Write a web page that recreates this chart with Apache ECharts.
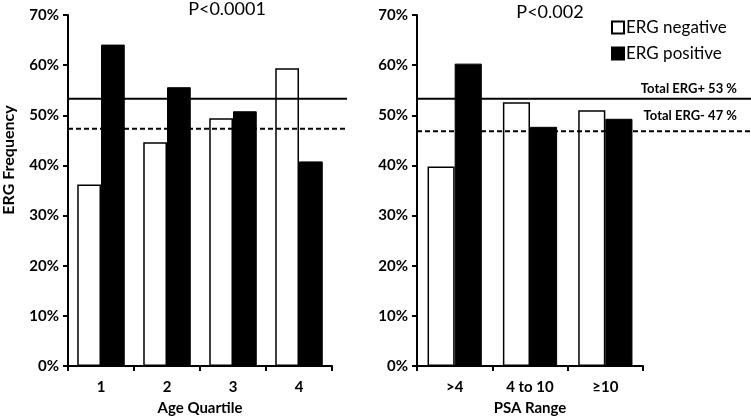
<!DOCTYPE html>
<html>
<head>
<meta charset="utf-8">
<script src="https://cdn.jsdelivr.net/npm/echarts@6/dist/echarts.min.js"></script>
<style>html,body{margin:0;padding:0;background:#fff}#c{width:751px;height:417px}</style>
</head>
<body>
<div id="c"></div>
<script>
const ageCats = ['1', '2', '3', '4'];
const ageNeg = [36.2, 44.6, 49.4, 59.4];
const agePos = [64.1, 55.6, 50.8, 40.8];
const psaCats = ['>4', '4 to 10', '≥10'];
const psaNeg = [39.8, 52.6, 51.0];
const psaPos = [60.3, 47.7, 49.3];
const totalPos = 53.3;
const totalNegLeft = 47.3;
const totalNegRight = 46.8;
const yTicks = [0, 10, 20, 30, 40, 50, 60, 70];

const FONT = 'Lato';
const chart = echarts.init(document.getElementById('c'), null, {renderer: 'canvas'});

function catAxis(gridIndex, cats, name) {
  return {
    type: 'category', gridIndex, data: cats,
    axisLine: {lineStyle: {color: '#000', width: 2}},
    axisTick: {show: true, length: 5, lineStyle: {color: '#000', width: 2}},
    axisLabel: {color: '#000', fontFamily: FONT, fontWeight: 'bold', fontSize: 15, margin: 14},
    name, nameLocation: 'middle', nameGap: 35,
    nameTextStyle: {color: '#000', fontFamily: FONT, fontWeight: 'bold', fontSize: 15}
  };
}
function valAxis(gridIndex) {
  return {
    type: 'value', gridIndex, min: yTicks[0], max: yTicks[yTicks.length - 1], interval: 10,
    axisLine: {show: true, lineStyle: {color: '#000', width: 2}},
    axisTick: {show: true, length: 5, lineStyle: {color: '#000', width: 2}},
    splitLine: {show: false},
    axisLabel: {color: '#000', fontFamily: FONT, fontWeight: 'bold', fontSize: 15, margin: 9, formatter: '{value}%'}
  };
}
function hiddenX(gridIndex) {
  return {type: 'value', gridIndex, min: 0, max: 1, show: false};
}
function hiddenY(gridIndex) {
  return {type: 'value', gridIndex, min: 0, max: 70, show: false};
}
const negStyle = {color: '#fff', borderColor: '#000', borderWidth: 1.5};
const posStyle = {color: '#000', borderColor: '#000', borderWidth: 1};

function refLine(xi, yi, val, dashed) {
  return {
    type: 'line', xAxisIndex: xi, yAxisIndex: yi, symbol: 'none', silent: true,
    data: [[0, val], [1, val]],
    lineStyle: {color: '#000', width: 2, type: dashed ? [5, 3] : 'solid'},
    z: 5
  };
}
function gridAt(left, right) {
  return {left, right, top: 15, bottom: 51, containLabel: false, outerBoundsMode: 'none'};
}

chart.setOption({
  animation: false,
  backgroundColor: '#fff',
  title: [
    {text: 'P<0.0001', left: 227, top: 0, padding: 0, textAlign: 'center',
     textStyle: {fontFamily: FONT, fontWeight: 'normal', fontSize: 18, color: '#000'}},
    {text: 'P<0.002', left: 550, top: 3, padding: 0, textAlign: 'center',
     textStyle: {fontFamily: FONT, fontWeight: 'normal', fontSize: 18, color: '#000'}}
  ],
  legend: {
    orient: 'vertical', left: 606, top: 14, itemGap: 9,
    itemWidth: 12, itemHeight: 12, icon: 'rect',
    textStyle: {fontFamily: FONT, fontSize: 17, color: '#000', padding: [0, 0, 0, -3]},
    data: ['ERG negative', 'ERG positive']
  },
  grid: [
    gridAt(68, 419),
    gridAt(417, 108),
    gridAt(68, 404),
    gridAt(417, 0)
  ],
  xAxis: [
    catAxis(0, ageCats, 'Age Quartile'),
    catAxis(1, psaCats, 'PSA Range'),
    hiddenX(2),
    hiddenX(3)
  ],
  yAxis: [
    valAxis(0),
    valAxis(1),
    hiddenY(2),
    hiddenY(3)
  ],
  series: [
    {name: 'ERG negative', type: 'bar', xAxisIndex: 0, yAxisIndex: 0, data: ageNeg,
     itemStyle: negStyle, barGap: '0%', barCategoryGap: '28%'},
    {name: 'ERG positive', type: 'bar', xAxisIndex: 0, yAxisIndex: 0, data: agePos,
     itemStyle: posStyle, barGap: '0%', barCategoryGap: '28%'},
    {name: 'ERG negative', type: 'bar', xAxisIndex: 1, yAxisIndex: 1, data: psaNeg,
     itemStyle: negStyle, barGap: '0%', barCategoryGap: '28%'},
    {name: 'ERG positive', type: 'bar', xAxisIndex: 1, yAxisIndex: 1, data: psaPos,
     itemStyle: posStyle, barGap: '0%', barCategoryGap: '28%'},
    refLine(2, 2, totalPos, false),
    refLine(2, 2, totalNegLeft, true),
    refLine(3, 3, totalPos, false),
    refLine(3, 3, totalNegRight, true)
  ],
  graphic: [
    {type: 'text', x: 9, y: 160, rotation: Math.PI / 2,
     style: {text: 'ERG Frequency', fontFamily: FONT, fontWeight: 'bold', fontSize: 16, fill: '#000',
             align: 'center', verticalAlign: 'middle'}},
    {type: 'text', right: 14, top: 82,
     style: {text: 'Total ERG+ ' + Math.round(totalPos) + ' %', fontFamily: FONT, fontWeight: 'bold', fontSize: 13, fill: '#000'}},
    {type: 'text', right: 14, top: 109,
     style: {text: 'Total ERG- ' + Math.round(totalNegRight) + ' %', fontFamily: FONT, fontWeight: 'bold', fontSize: 13, fill: '#000'}}
  ]
});
</script>
</body>
</html>
